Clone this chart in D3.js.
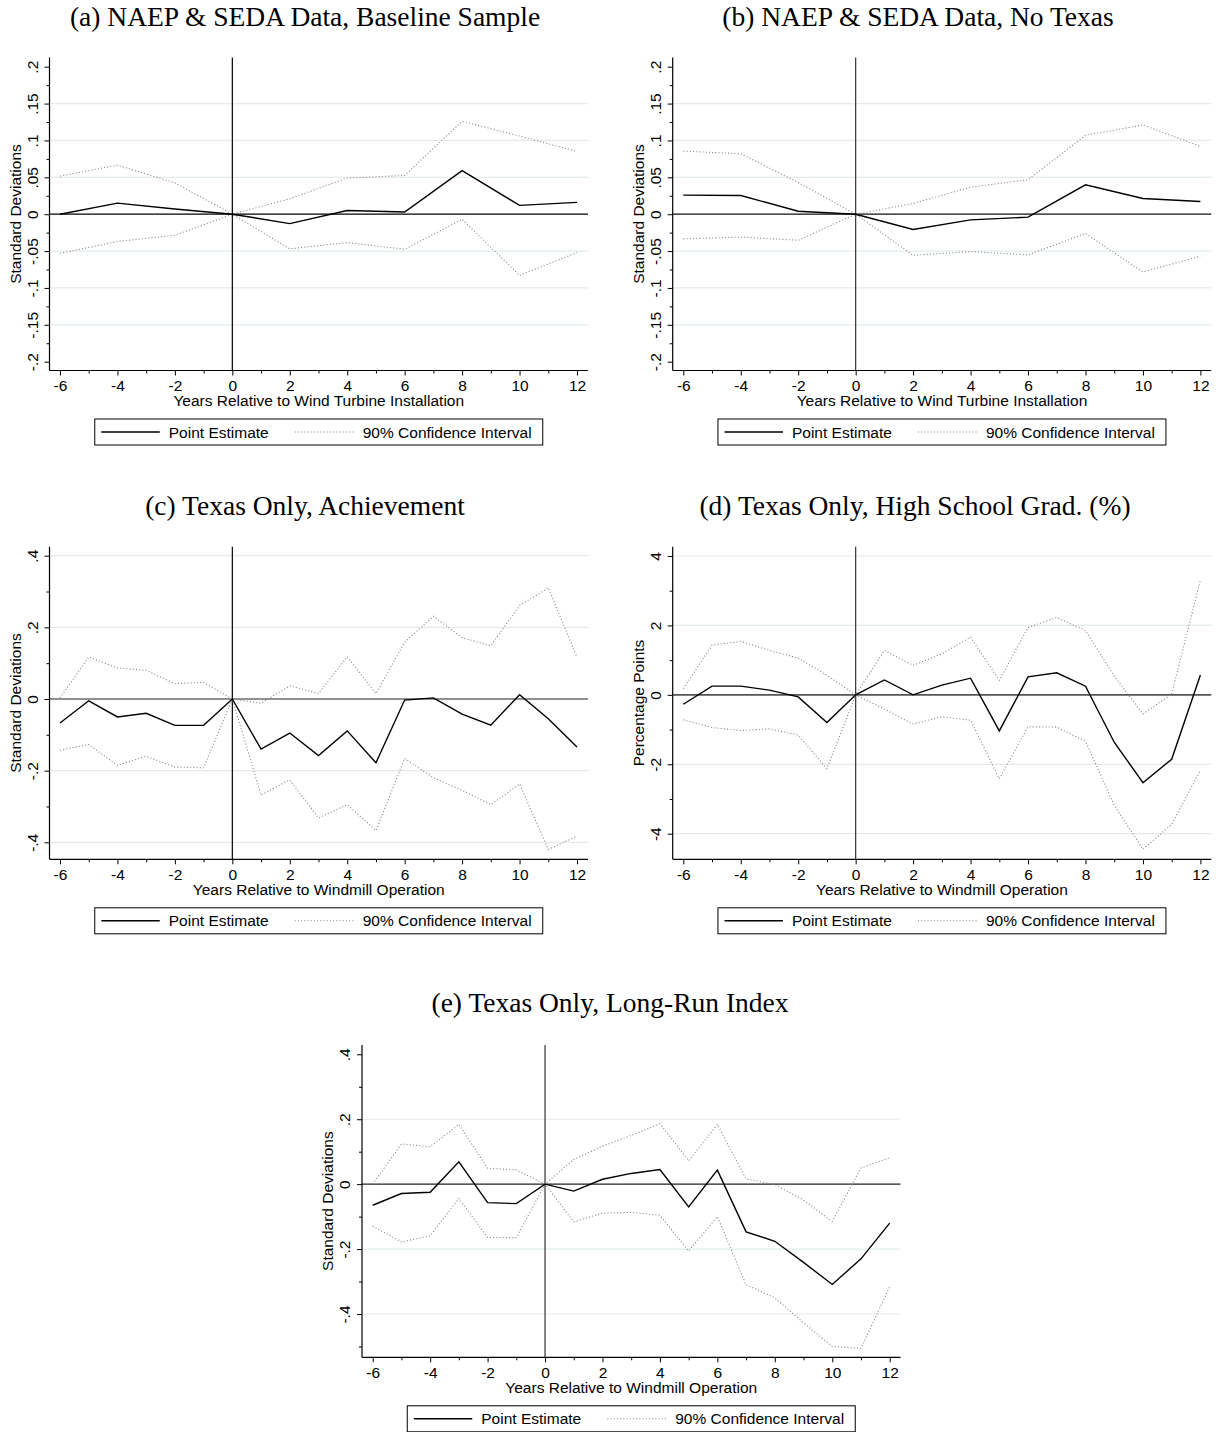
<!DOCTYPE html>
<html><head><meta charset="utf-8">
<script src="https://cdn.jsdelivr.net/npm/d3@7"></script>
<style>body{margin:0;background:#fff}svg{display:block}</style>
</head><body><svg id="chart" width="1221" height="1432"></svg>
<script>
// ---------- DATA ----------
const yearsEven = [-6, -4, -2, 0, 2, 4, 6, 8, 10, 12];
const yearsAll = [-6, -5, -4, -3, -2, -1, 0, 1, 2, 3, 4, 5, 6, 7, 8, 9, 10, 11, 12];

// (a) NAEP & SEDA, baseline
const estA   = [0.000, 0.015, 0.007, 0, -0.0127, 0.005, 0.003, 0.059, 0.012, 0.016];
const upperA = [0.0516, 0.0665, 0.0425, 0, 0.021, 0.049, 0.0525, 0.126, 0.106, 0.085];
const lowerA = [-0.053, -0.037, -0.0285, 0, -0.047, -0.0385, -0.0475, -0.007, -0.083, -0.052];

// (b) NAEP & SEDA, no Texas
const estB   = [0.0258, 0.0253, 0.004, 0, -0.0208, -0.0077, -0.004, 0.0398, 0.0213, 0.0172];
const upperB = [0.0855, 0.082, 0.043, 0, 0.0145, 0.0367, 0.0466, 0.107, 0.121, 0.092];
const lowerB = [-0.0335, -0.031, -0.0353, 0, -0.0557, -0.0507, -0.0552, -0.0262, -0.0783, -0.057];

// (c) Texas only, achievement
const estC   = [-0.067, -0.005, -0.050, -0.040, -0.0735, -0.0735, 0, -0.140, -0.095, -0.158, -0.089, -0.178, -0.003, 0.003, -0.042, -0.073, 0.012, -0.055, -0.134];
const upperC = [0.003, 0.117, 0.0865, 0.080, 0.043, 0.0465, 0, -0.012, 0.037, 0.015, 0.118, 0.015, 0.159, 0.231, 0.171, 0.149, 0.261, 0.310, 0.117];
const lowerC = [-0.143, -0.127, -0.185, -0.160, -0.190, -0.192, 0, -0.268, -0.226, -0.332, -0.295, -0.367, -0.166, -0.220, -0.255, -0.295, -0.237, -0.420, -0.383];

// (d) Texas only, high school graduation (%)
const estD   = [-0.27, 0.25, 0.25, 0.135, -0.06, -0.80, 0, 0.43, 0.00, 0.28, 0.48, -1.04, 0.52, 0.635, 0.25, -1.365, -2.53, -1.855, 0.57];
const upperD = [0.18, 1.43, 1.54, 1.28, 1.06, 0.56, 0, 1.28, 0.85, 1.18, 1.66, 0.42, 1.94, 2.23, 1.85, 0.54, -0.55, 0.02, 3.31];
const lowerD = [-0.72, -0.94, -1.03, -0.98, -1.16, -2.13, 0, -0.41, -0.84, -0.63, -0.73, -2.42, -0.92, -0.93, -1.34, -3.18, -4.45, -3.73, -2.17];

// (e) Texas only, long-run index
const estE   = [-0.065, -0.029, -0.025, 0.069, -0.057, -0.060, 0, -0.0215, 0.015, 0.033, 0.045, -0.070, 0.043, -0.147, -0.176, -0.241, -0.309, -0.230, -0.120];
const upperE = [0.000, 0.124, 0.115, 0.184, 0.049, 0.044, 0, 0.076, 0.117, 0.150, 0.186, 0.072, 0.184, 0.016, -0.001, -0.049, -0.115, 0.050, 0.081];
const lowerE = [-0.129, -0.178, -0.159, -0.044, -0.164, -0.165, 0, -0.116, -0.089, -0.087, -0.096, -0.206, -0.100, -0.310, -0.350, -0.427, -0.500, -0.506, -0.316];

// tick values / labels
const xTickValues = [-6, -4, -2, 0, 2, 4, 6, 8, 10, 12];
const xTickLabels = ["-6", "-4", "-2", "0", "2", "4", "6", "8", "10", "12"];
const xMinorValues = [-5, -3, -1, 1, 3, 5, 7, 9, 11];
const yTicksSmall = [0.2, 0.15, 0.1, 0.05, 0, -0.05, -0.1, -0.15, -0.2];
const yLabelsSmall = [".2", ".15", ".1", ".05", "0", "-.05", "-.1", "-.15", "-.2"];
const yMinorSmall = [0.175, 0.125, 0.075, 0.025, -0.025, -0.075, -0.125, -0.175];
const yTicksSD = [0.4, 0.2, 0, -0.2, -0.4];
const yLabelsSD = [".4", ".2", "0", "-.2", "-.4"];
const yMinorSD = [0.3, 0.1, -0.1, -0.3];
const yMinorSDe = [0.3, 0.1, -0.1, -0.3, -0.5];
const yTicksPP = [4, 2, 0, -2, -4];
const yLabelsPP = ["4", "2", "0", "-2", "-4"];
const yMinorPP = [3, 1, -1, -3];

const titles = [
  "(a) NAEP & SEDA Data, Baseline Sample",
  "(b) NAEP & SEDA Data, No Texas",
  "(c) Texas Only, Achievement",
  "(d) Texas Only, High School Grad. (%)",
  "(e) Texas Only, Long-Run Index"
];
const xTitleTurbine = "Years Relative to Wind Turbine Installation";
const xTitleWindmill = "Years Relative to Windmill Operation";
const yTitleSD = "Standard Deviations";
const yTitlePP = "Percentage Points";
const legendLabels = ["Point Estimate", "90% Confidence Interval"];

// ---------- LAYOUT ----------
const panels = [
  { title: titles[0], titleX: 305, titleY: 26, x: yearsEven, est: estA, up: upperA, lo: lowerA,
    left: 49.5, right: 588, top: 57.5, bottom: 370.5, xPx: [60, 577],
    yRef: [-0.2, 0.2], yPx: [361.7, 66.7],
    yTicks: yTicksSmall, yLabels: yLabelsSmall, yMinor: yMinorSmall,
    grid: [0.15, 0.1, 0.05, -0.05, -0.1, -0.15],
    xTitle: xTitleTurbine, yTitle: yTitleSD, zeroH: "#000", zeroV: "#000" },
  { title: titles[1], titleX: 918, titleY: 26, x: yearsEven, est: estB, up: upperB, lo: lowerB,
    left: 672.7, right: 1211.2, top: 57.5, bottom: 370.5, xPx: [683.3, 1200.4],
    yRef: [-0.2, 0.2], yPx: [361.7, 66.7],
    yTicks: yTicksSmall, yLabels: yLabelsSmall, yMinor: yMinorSmall,
    grid: [0.15, 0.1, 0.05, -0.05, -0.1, -0.15],
    xTitle: xTitleTurbine, yTitle: yTitleSD, zeroH: "#111", zeroV: "#333" },
  { title: titles[2], titleX: 305, titleY: 515, x: yearsAll, est: estC, up: upperC, lo: lowerC,
    left: 49.5, right: 588, top: 546.7, bottom: 859.3, xPx: [60, 577],
    yRef: [-0.4, 0.4], yPx: [842.3, 555.7],
    yTicks: yTicksSD, yLabels: yLabelsSD, yMinor: yMinorSD,
    grid: [0.4, 0.2, -0.2, -0.4],
    xTitle: xTitleWindmill, yTitle: yTitleSD, zeroH: "#222", zeroV: "#000" },
  { title: titles[3], titleX: 915, titleY: 515, x: yearsAll, est: estD, up: upperD, lo: lowerD,
    left: 672.7, right: 1211.2, top: 546.7, bottom: 859.3, xPx: [683.3, 1200.4],
    yRef: [-4, 4], yPx: [833.7, 556],
    yTicks: yTicksPP, yLabels: yLabelsPP, yMinor: yMinorPP,
    grid: [4, 2, -2, -4],
    xTitle: xTitleWindmill, yTitle: yTitlePP, zeroH: "#555", zeroV: "#333" },
  { title: titles[4], titleX: 610, titleY: 1012, x: yearsAll, est: estE, up: upperE, lo: lowerE,
    left: 362, right: 900.5, top: 1045, bottom: 1357.3, xPx: [372.7, 889.7],
    yRef: [-0.4, 0.4], yPx: [1314, 1054.3],
    yTicks: yTicksSD, yLabels: yLabelsSD, yMinor: yMinorSDe,
    grid: [0.2, -0.2, -0.4],
    xTitle: xTitleWindmill, yTitle: yTitleSD, zeroH: "#222", zeroV: "#333" }
];

const SANS = "'Liberation Sans', Arial, Helvetica, sans-serif";
const SERIF = "'Liberation Serif', 'Times New Roman', serif";
const FS = 15.5;
const svg = d3.select("#chart");

panels.forEach(p => {
  const g = svg.append("g");
  const xs = d3.scaleLinear().domain([-6, 12]).range(p.xPx);
  const ys = d3.scaleLinear().domain(p.yRef).range(p.yPx);

  // title
  g.append("text").attr("x", p.titleX).attr("y", p.titleY)
    .attr("text-anchor", "middle").attr("font-family", SERIF).attr("font-size", 27.5)
    .attr("fill", "#000").text(p.title);

  // gridlines
  g.selectAll(".grid").data(p.grid).enter().append("line")
    .attr("x1", p.left).attr("x2", p.right)
    .attr("y1", d => ys(d)).attr("y2", d => ys(d))
    .attr("stroke", "#e2ebeb").attr("stroke-width", 1.2);

  // zero reference lines
  g.append("line").attr("x1", p.left).attr("x2", p.right)
    .attr("y1", ys(0)).attr("y2", ys(0))
    .attr("stroke", p.zeroH).attr("stroke-width", p.zeroH === "#555" ? 1.8 : 1.2);
  g.append("line").attr("x1", xs(0)).attr("x2", xs(0))
    .attr("y1", p.top).attr("y2", p.bottom)
    .attr("stroke", p.zeroV).attr("stroke-width", 1.2);

  // series
  const pts = (arr) => p.x.map((v, i) => [v, arr[i]]);
  const line = d3.line().x(d => xs(d[0])).y(d => ys(d[1]));
  [p.up, p.lo].forEach(arr => {
    g.append("path").attr("d", line(pts(arr))).attr("fill", "none")
      .attr("stroke", "#8a8a8a").attr("stroke-width", 1.1)
      .attr("stroke-dasharray", "1.1,2.1");
  });
  g.append("path").attr("d", line(pts(p.est))).attr("fill", "none")
    .attr("stroke", "#000").attr("stroke-width", 1.4).attr("stroke-linejoin", "miter");

  // x axis
  const xAxisG = g.append("g").attr("transform", `translate(0,${p.bottom})`);
  xAxisG.call(d3.axisBottom(xs).tickValues(xTickValues).tickSize(5).tickSizeOuter(0)
    .tickFormat((d, i) => xTickLabels[i]));
  xAxisG.select(".domain").remove();
  xAxisG.selectAll("text").attr("font-family", SANS).attr("font-size", FS)
    .attr("fill", "#000").attr("dy", null).attr("y", 20.3);
  xAxisG.selectAll(".tick line").attr("stroke", "#000");
  const xMinorG = g.append("g").attr("transform", `translate(0,${p.bottom})`);
  xMinorG.call(d3.axisBottom(xs).tickValues(xMinorValues).tickSize(3).tickSizeOuter(0).tickFormat(""));
  xMinorG.select(".domain").remove();
  xMinorG.selectAll(".tick line").attr("stroke", "#000");
  g.append("line").attr("x1", p.left).attr("x2", p.right)
    .attr("y1", p.bottom).attr("y2", p.bottom).attr("stroke", "#000").attr("stroke-width", 1.2);

  // y axis
  const yAxisG = g.append("g").attr("transform", `translate(${p.left},0)`);
  yAxisG.call(d3.axisLeft(ys).tickValues(p.yTicks).tickSize(5).tickSizeOuter(0)
    .tickFormat((d, i) => p.yLabels[i]));
  yAxisG.select(".domain").remove();
  yAxisG.selectAll(".tick line").attr("stroke", "#000");
  yAxisG.selectAll(".tick text").attr("font-family", SANS).attr("font-size", FS)
    .attr("fill", "#000").attr("x", null).attr("dy", null)
    .attr("text-anchor", "middle").attr("transform", "translate(-12,0) rotate(-90)");
  const yMinorG = g.append("g").attr("transform", `translate(${p.left},0)`);
  yMinorG.call(d3.axisLeft(ys).tickValues(p.yMinor).tickSize(3).tickSizeOuter(0).tickFormat(""));
  yMinorG.select(".domain").remove();
  yMinorG.selectAll(".tick line").attr("stroke", "#000");
  g.append("line").attr("x1", p.left).attr("x2", p.left)
    .attr("y1", p.top).attr("y2", p.bottom).attr("stroke", "#000").attr("stroke-width", 1.2);

  // axis titles
  const cx = (p.left + p.right) / 2, cy = (p.top + p.bottom) / 2;
  g.append("text").attr("x", cx).attr("y", p.bottom + 35.5).attr("text-anchor", "middle")
    .attr("font-family", SANS).attr("font-size", FS).attr("fill", "#000").text(p.xTitle);
  g.append("text").attr("transform", `translate(${p.left - 29},${cy}) rotate(-90)`)
    .attr("text-anchor", "middle").attr("font-family", SANS).attr("font-size", FS)
    .attr("fill", "#000").text(p.yTitle);

  // legend
  const lw = 448, lh = 26;
  const lx = cx - lw / 2, ly = p.bottom + 48.5;
  const lg = g.append("g").attr("transform", `translate(${lx},${ly})`);
  lg.append("rect").attr("x", 0).attr("y", 0).attr("width", lw).attr("height", lh)
    .attr("fill", "#fff").attr("stroke", "#000").attr("stroke-width", 1);
  lg.append("line").attr("x1", 6.6).attr("x2", 65).attr("y1", lh / 2).attr("y2", lh / 2)
    .attr("stroke", "#000").attr("stroke-width", 1.4);
  lg.append("text").attr("x", 74).attr("y", lh / 2 + 5.5).attr("font-family", SANS)
    .attr("font-size", FS).attr("fill", "#000").text(legendLabels[0]);
  lg.append("line").attr("x1", 200).attr("x2", 260.5).attr("y1", lh / 2).attr("y2", lh / 2)
    .attr("stroke", "#8a8a8a").attr("stroke-width", 1.1).attr("stroke-dasharray", "1.1,2.1");
  lg.append("text").attr("x", 268).attr("y", lh / 2 + 5.5).attr("font-family", SANS)
    .attr("font-size", FS).attr("fill", "#000").text(legendLabels[1]);
});
</script></body></html>
